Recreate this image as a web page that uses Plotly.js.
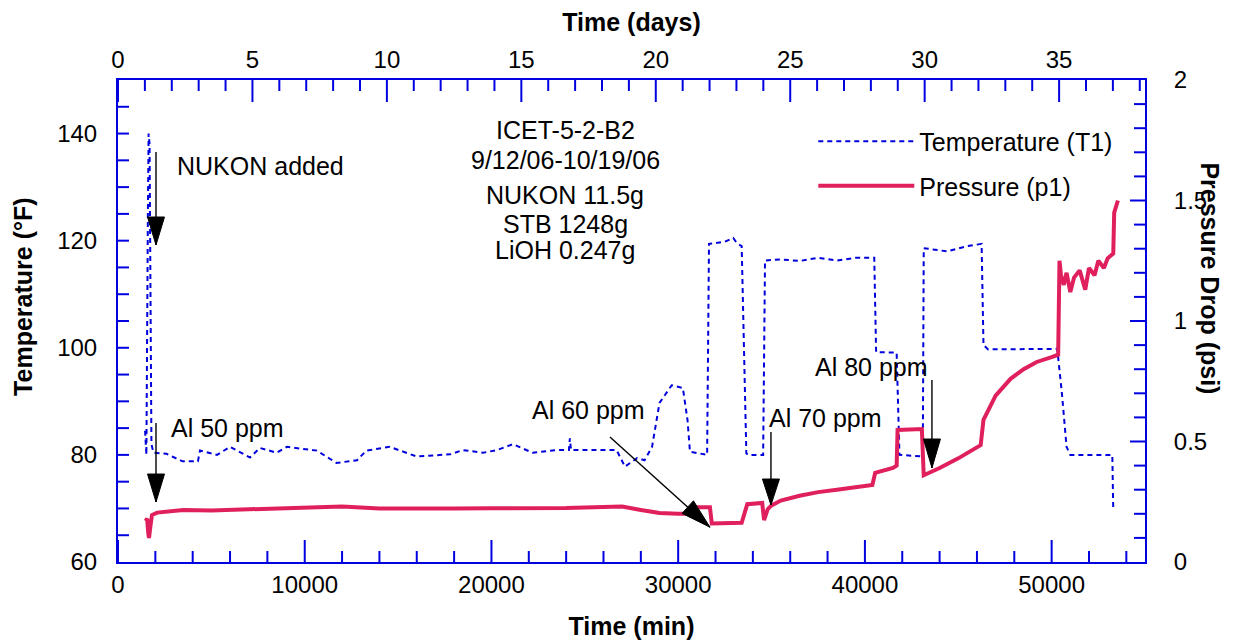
<!DOCTYPE html>
<html><head><meta charset="utf-8">
<script src="https://cdn.plot.ly/plotly-3.0.1.min.js"></script>
<style>html,body{margin:0;padding:0;background:#fff}#chart{width:1240px;height:640px}</style>
</head><body><div id="chart"></div>
<script>
// Temperature (T1), deg F vs time (min)
const tempTime = [1450,1520,1600,1640,1690,1740,1790,1900,2600,3450,4280,4390,5300,6000,7070,7600,8500,9050,10650,11700,12800,13300,14550,16000,17800,18450,19550,20300,21150,22200,23500,24150,24200,24260,25300,26700,27150,27800,28200,28600,29000,29650,30250,30500,30630,31550,31650,32500,32950,33150,33400,33650,33750,34550,34650,35500,36500,37500,38500,39500,40500,40600,41700,41850,43100,43150,44400,45500,46250,46350,46600,50300,50550,50800,51000,53250,53300];
const tempF = [84.5,80,125,140,138,110,82,80.4,80.2,78.8,78.8,80.8,80,81.5,79.5,81.3,80.4,81.5,80.8,78.5,79,80.8,81.5,79.7,80.1,80.9,80.4,80.9,82,80.4,80.9,80.9,83.1,80.9,80.9,80.9,77.8,79.4,79,81.5,89.7,93,92.5,86.5,80.6,80,119.4,119.8,120.5,119.5,119,80.3,80,80,116.3,116.5,116.2,116.8,116.3,116.8,116.8,99.2,99.1,80,79.7,118.6,118,119,119.4,100.5,99.7,99.8,91.5,81.5,80,80,69.7];

// Pressure (p1), psi vs time (min)
const presTime = [1480,1560,1620,1660,1740,1820,2100,3000,3500,5000,7000,9000,11000,12000,14000,16000,18000,20000,22000,24000,26000,27000,28000,29000,30000,30800,30900,31700,31800,33400,33700,34500,34600,34800,35000,35500,36500,37500,38500,39500,40400,40550,41500,41700,41750,43050,43150,44000,45000,46200,46350,47000,47800,48500,49200,50000,50350,50420,50500,50650,50800,51000,51200,51500,51800,52000,52300,52500,52800,53000,53300,53350,53550];
const presPsi = [0.17,0.18,0.12,0.10,0.15,0.195,0.205,0.21,0.216,0.214,0.219,0.222,0.226,0.23,0.222,0.22,0.222,0.223,0.222,0.224,0.228,0.23,0.216,0.203,0.2,0.2,0.227,0.227,0.16,0.163,0.24,0.245,0.174,0.22,0.235,0.255,0.275,0.29,0.30,0.31,0.32,0.37,0.39,0.40,0.548,0.552,0.36,0.39,0.43,0.485,0.59,0.69,0.76,0.80,0.83,0.85,0.86,1.25,1.19,1.15,1.20,1.12,1.18,1.21,1.13,1.22,1.19,1.25,1.22,1.26,1.28,1.45,1.50];

// Ranges
const minRange = [0, 55000];
const dayRange = [0, 55000/1440];
const tempRange = [60, 150];
const presRange = [0, 2];

// Notes and event labels
const infoLines = ["ICET-5-2-B2", "9/12/06-10/19/06", "NUKON 11.5g", "STB 1248g", "LiOH 0.247g"];
const infoY = [140.7, 135.1, 128.6, 123.1, 118.2];
const eventLabels = ["NUKON added", "Al 50 ppm", "Al 60 ppm", "Al 70 ppm", "Al 80 ppm"];

const BLUE = '#0000dd';
const AXB = '#0000e0';
const RED = '#e0205c';
const FONT = 'Liberation Sans, Arial, sans-serif';

// inside tick marks built on each axis's own scale (major ticks longer)
const plotW = 1240-118-95, plotH = 640-80-78;
const pxMin = plotW/(minRange[1]-minRange[0]);
const pxDay = plotW/(dayRange[1]-dayRange[0]);
const pxF = plotH/(tempRange[1]-tempRange[0]);
const pxPsi = plotH/(presRange[1]-presRange[0]);
const tb = {x:[], y:[]}, tt = {x:[], y:[]}, tl = {x:[], y:[]}, tr = {x:[], y:[]};
for(let v=0; v<=54000; v+=2000){ const L=(v%10000===0?22:11)/pxF; tb.x.push(v,v,null); tb.y.push(60,60+L,null); }
for(let d=0; d<=38; d++){ const L=(d%5===0?22:11)/pxF; tt.x.push(d,d,null); tt.y.push(150,150-L,null); }
for(let v=65; v<150; v+=5){ tl.x.push(0,11/pxMin,null); tl.y.push(v,v,null); }
for(let i=1; i<20; i++){ const L=(i%5===0?15:11)/pxMin; tr.x.push(55000,55000-L,null); tr.y.push(i/10,i/10,null); }
const tickLine = {color:AXB, width:2};
const tickTrace = (o, xa, ya) => ({x:o.x, y:o.y, xaxis:xa, yaxis:ya, type:'scatter', mode:'lines',
  line:tickLine, showlegend:false, hoverinfo:'skip', connectgaps:false, cliponaxis:false});

const traces = [
  tickTrace(tb,'x','y'), tickTrace(tt,'x2','y'), tickTrace(tl,'x','y'), tickTrace(tr,'x','y2'),
  {x: tempTime, y: tempF, xaxis:'x', yaxis:'y', type:'scatter', mode:'lines', legendgroup:'a',
   name:'Temperature (T1)', line:{color:BLUE, width:2, dash:'5px,4px'}},
  {x: presTime, y: presPsi, xaxis:'x', yaxis:'y2', type:'scatter', mode:'lines', legendgroup:'b',
   name:'Pressure (p1)', line:{color:RED, width:4}}
];

function axisBase(extra){
  return Object.assign({
    showline:true, linecolor:AXB, linewidth:2, showgrid:false, zeroline:false,
    ticks:'', tickfont:{size:24, color:'#000', family:FONT}, exponentformat:'none'
  }, extra);
}

const ann = [];
infoLines.forEach((t,i)=>ann.push({x:23950, y:infoY[i], xref:'x', yref:'y', text:t, showarrow:false,
  xanchor:'center', yanchor:'middle', font:{size:25, color:'#000', family:FONT}}));
const evX = [3050, 2730, 25220, 37913, 40377];
const evY = [133.9, 85.1, 88.4, 86.9, 96.5];
const evAnchor = ['left','left','center','center','center'];
eventLabels.forEach((t,i)=>ann.push({x:evX[i], y:evY[i], xref:'x', yref:'y', text:t, showarrow:false,
  xanchor:evAnchor[i], yanchor:'middle', font:{size:25, color:'#000', family:FONT}}));
// y-axis titles (the right one reads top-to-bottom as in the original)
ann.push({xref:'paper', yref:'paper', x:-0.092, y:0.549, text:'<b>Temperature (°F)</b>', textangle:-90,
  showarrow:false, xanchor:'center', yanchor:'middle', font:{size:25, color:'#000', family:FONT}});
ann.push({xref:'paper', yref:'paper', x:1.063, y:0.589, text:'<b>Pressure Drop (psi)</b>', textangle:90,
  showarrow:false, xanchor:'center', yanchor:'middle', font:{size:25, color:'#000', family:FONT}});

// arrows: shafts (tail -> tip) and pixel-sized heads
const shapes = [];
const arrowTail = [[2035,136.55],[2035,85.95],[26346,83.34],[34968,84.27],[43590,93.98]];
const arrowTip  = [[2035,119.19],[2035,71.2],[31702,66.5],[34968,70.64],[43590,77.55]];
const headPaths = ['M0,0L-8.5,28L8.5,28Z','M0,0L-8.5,28L8.5,28Z','M0,0L-16.5,26.4L-27.9,13.8Z','M0,0L-8.5,26L8.5,26Z','M0,0L-8.5,29L8.5,29Z'];
arrowTail.forEach((t,i)=>{
  shapes.push({type:'line', xref:'x', yref:'y', x0:t[0], y0:t[1], x1:arrowTip[i][0], y1:arrowTip[i][1],
    line:{color:'#000', width:1.4}});
  shapes.push({type:'path', xref:'x', yref:'y', xsizemode:'pixel', ysizemode:'pixel',
    xanchor:arrowTip[i][0], yanchor:arrowTip[i][1], path:headPaths[i],
    fillcolor:'#000', line:{color:'#000', width:1}});
});

const layout = {
  width:1240, height:640,
  margin:{l:118, r:95, t:80, b:78},
  showlegend:true,
  legend:{x:0.677, y:0.92, xanchor:'left', yanchor:'top', bgcolor:'rgba(0,0,0,0)',
    font:{size:25, family:FONT, color:'#000'}, itemwidth:96, traceorder:'grouped', tracegroupgap:9},
  xaxis: axisBase({range:minRange, dtick:10000, tickformat:'d',
    title:{text:'<b>Time (min)</b>', font:{size:25, family:FONT, color:'#000'}, standoff:22}}),
  xaxis2: axisBase({range:dayRange, overlaying:'x', side:'top', anchor:'y', dtick:5,
    title:{text:'<b>Time (days)</b>', font:{size:25, family:FONT, color:'#000'}, standoff:8}}),
  yaxis: axisBase({range:tempRange, dtick:20, ticklabelstandoff:14}),
  yaxis2: axisBase({range:presRange, overlaying:'y', side:'right', anchor:'x', dtick:0.5, ticklabelstandoff:22}),
  annotations: ann,
  shapes: shapes
};

Plotly.newPlot('chart', traces, layout, {staticPlot:true});
</script>
</body></html>
